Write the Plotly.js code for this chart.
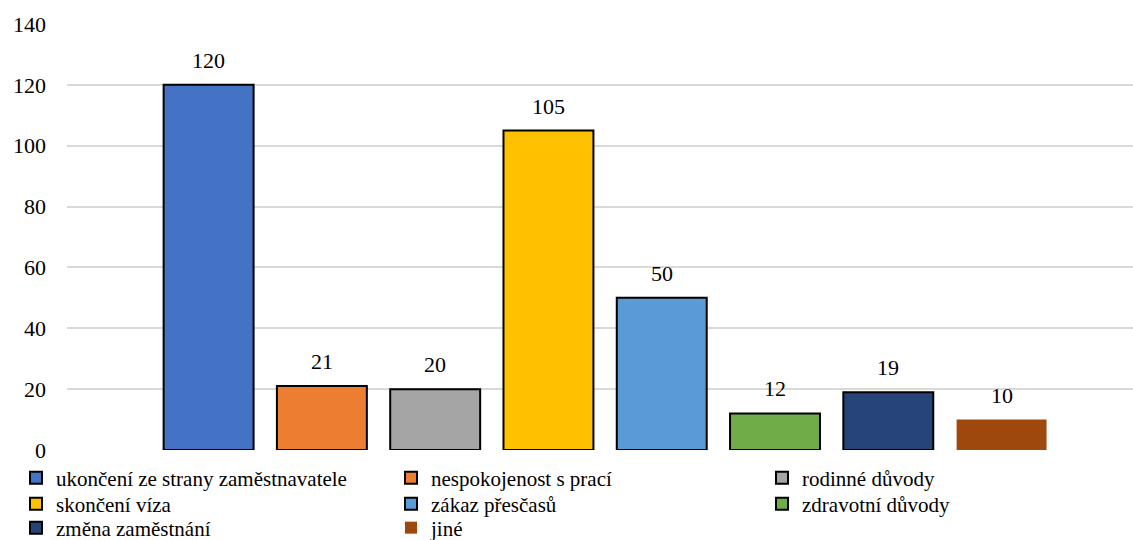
<!DOCTYPE html>
<html>
<head>
<meta charset="utf-8">
<script src="https://cdn.plot.ly/plotly-3.0.1.min.js"></script>
<style>html,body{margin:0;padding:0;background:#fff;}#chart{width:1133px;height:540px;}</style>
</head>
<body>
<div id="chart"></div>
<script>
const categories = ["ukončení ze strany zaměstnavatele","nespokojenost s prací","rodinné důvody","skončení víza","zákaz přesčasů","zdravotní důvody","změna zaměstnání","jiné"];
const values = [120, 21, 20, 105, 50, 12, 19, 10];
const colors = ["#4472c4","#ed7d31","#a5a5a5","#ffc000","#5b9bd5","#70ad47","#264478","#9e480e"];
const borderWidths = [2,2,2,2,2,2,2,0];
const yTicks = [0,20,40,60,80,100,120,140];

const FONT = 'Liberation Serif';
// legend layout: rows/cols in container pixel positions
const legendCols = [0, 1, 2, 0, 1, 2, 0, 1];
const legendRows = [0, 0, 0, 1, 1, 1, 2, 2];
const colX = [16, 391, 762];
const rowY = [478, 504, 528];

const traces = categories.map((c, i) => ({
  type: 'bar',
  name: c,
  x: [i],
  y: [values[i]],
  width: 0.794,
  marker: {color: colors[i], line: {color: '#000', width: borderWidths[i]}},
  hoverinfo: 'skip',
  legend: i === 0 ? 'legend' : 'legend' + (i + 1)
}));

const layout = {
  width: 1133, height: 540,
  margin: {l: 66.7, r: 0, t: 24, b: 90},
  paper_bgcolor: '#fff', plot_bgcolor: '#fff',
  font: {family: FONT, size: 22, color: '#000'},
  barmode: 'overlay',
  showlegend: true,
  xaxis: {range: [-1.25, 8.16], showticklabels: false, showgrid: false, zeroline: false, ticks: '', fixedrange: true},
  yaxis: {range: [0, 140], tickvals: yTicks, ticktext: yTicks.map(String), showgrid: true, gridcolor: '#d9d9d9', gridwidth: 2,
          zeroline: false, ticks: '', ticklabelstandoff: 20, tickfont: {family: FONT, size: 22, color: '#000'}, fixedrange: true},
  annotations: values.map((v, i) => ({
    x: i, y: v, xref: 'x', yref: 'y', text: String(v), showarrow: false,
    yanchor: 'middle', yshift: 24.5, font: {family: FONT, size: 22, color: '#000'}
  }))
};

categories.forEach((c, i) => {
  const key = i === 0 ? 'legend' : 'legend' + (i + 1);
  layout[key] = {
    xref: 'container', yref: 'container',
    x: colX[legendCols[i]] / 1133, y: 1 - rowY[legendRows[i]] / 540,
    xanchor: 'left', yanchor: 'middle',
    orientation: 'h', bgcolor: 'rgba(0,0,0,0)', borderwidth: 0,
    font: {family: FONT, size: 21, color: '#000'},
    itemclick: false, itemdoubleclick: false
  };
});

Plotly.newPlot('chart', traces, layout, {displayModeBar: false, staticPlot: true});
</script>
</body>
</html>
